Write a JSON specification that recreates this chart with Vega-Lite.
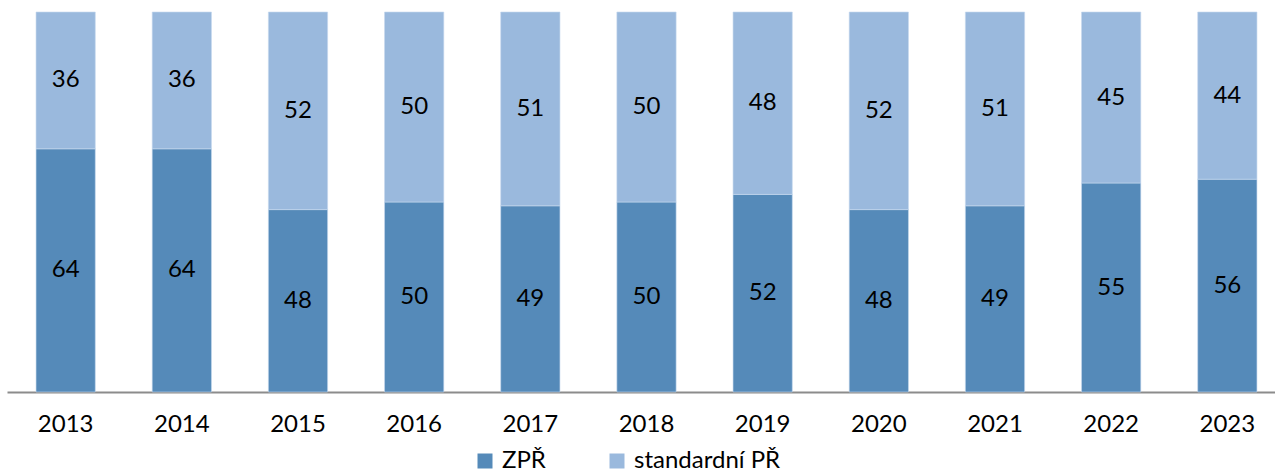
{
  "$schema": "https://vega.github.io/schema/vega-lite/v6.json",
  "autosize": {"type": "none"},
  "width": 1279,
  "height": 380,
  "padding": {"left": 7, "top": 12, "right": 0, "bottom": 81},
  "background": "white",
  "config": {
    "view": {"stroke": null},
    "font": "Lato",
    "text": {"font": "Lato"}
  },
  "data": {
    "values": [
      {"year": "2013", "type": "ZPŘ", "value": 64, "ord": 1},
      {"year": "2013", "type": "standardní PŘ", "value": 36, "ord": 2},
      {"year": "2014", "type": "ZPŘ", "value": 64, "ord": 1},
      {"year": "2014", "type": "standardní PŘ", "value": 36, "ord": 2},
      {"year": "2015", "type": "ZPŘ", "value": 48, "ord": 1},
      {"year": "2015", "type": "standardní PŘ", "value": 52, "ord": 2},
      {"year": "2016", "type": "ZPŘ", "value": 50, "ord": 1},
      {"year": "2016", "type": "standardní PŘ", "value": 50, "ord": 2},
      {"year": "2017", "type": "ZPŘ", "value": 49, "ord": 1},
      {"year": "2017", "type": "standardní PŘ", "value": 51, "ord": 2},
      {"year": "2018", "type": "ZPŘ", "value": 50, "ord": 1},
      {"year": "2018", "type": "standardní PŘ", "value": 50, "ord": 2},
      {"year": "2019", "type": "ZPŘ", "value": 52, "ord": 1},
      {"year": "2019", "type": "standardní PŘ", "value": 48, "ord": 2},
      {"year": "2020", "type": "ZPŘ", "value": 48, "ord": 1},
      {"year": "2020", "type": "standardní PŘ", "value": 52, "ord": 2},
      {"year": "2021", "type": "ZPŘ", "value": 49, "ord": 1},
      {"year": "2021", "type": "standardní PŘ", "value": 51, "ord": 2},
      {"year": "2022", "type": "ZPŘ", "value": 55, "ord": 1},
      {"year": "2022", "type": "standardní PŘ", "value": 45, "ord": 2},
      {"year": "2023", "type": "ZPŘ", "value": 56, "ord": 1},
      {"year": "2023", "type": "standardní PŘ", "value": 44, "ord": 2}
    ]
  },
  "encoding": {
    "x": {
      "field": "year",
      "type": "nominal",
      "scale": {"paddingInner": 0.49, "paddingOuter": 0.25},
      "axis": {
        "title": null,
        "labelAngle": 0,
        "labelFont": "Lato",
        "labelFontSize": 24,
        "labelColor": "#000000",
        "labelPadding": 20,
        "ticks": false,
        "domainColor": "#8c8c8c",
        "domainWidth": 2
      }
    },
    "y": {
      "field": "value",
      "type": "quantitative",
      "stack": "zero",
      "scale": {"domain": [0, 100]},
      "axis": null
    },
    "order": {"field": "ord", "type": "quantitative"}
  },
  "layer": [
    {
      "mark": {"type": "bar", "stroke": "#c6d8ee", "strokeWidth": 0.6},
      "encoding": {
        "color": {
          "field": "type",
          "type": "nominal",
          "scale": {"domain": ["ZPŘ", "standardní PŘ"], "range": ["#558ab9", "#9ab9dd"]},
          "legend": {
            "title": null,
            "orient": "none",
            "direction": "horizontal",
            "legendX": 466,
            "legendY": 437,
            "symbolType": "square",
            "symbolSize": 225,
            "symbolStrokeWidth": 0,
            "labelFont": "Lato",
            "labelFontSize": 24,
            "labelColor": "#000000",
            "labelOffset": 5,
            "columnPadding": 59
          }
        }
      }
    },
    {
      "mark": {"type": "text", "font": "Lato", "fontSize": 24, "color": "#000000", "baseline": "middle"},
      "encoding": {
        "y": {"field": "value", "type": "quantitative", "stack": "zero", "bandPosition": 0.5},
        "text": {"field": "value", "type": "quantitative"}
      }
    }
  ]
}
